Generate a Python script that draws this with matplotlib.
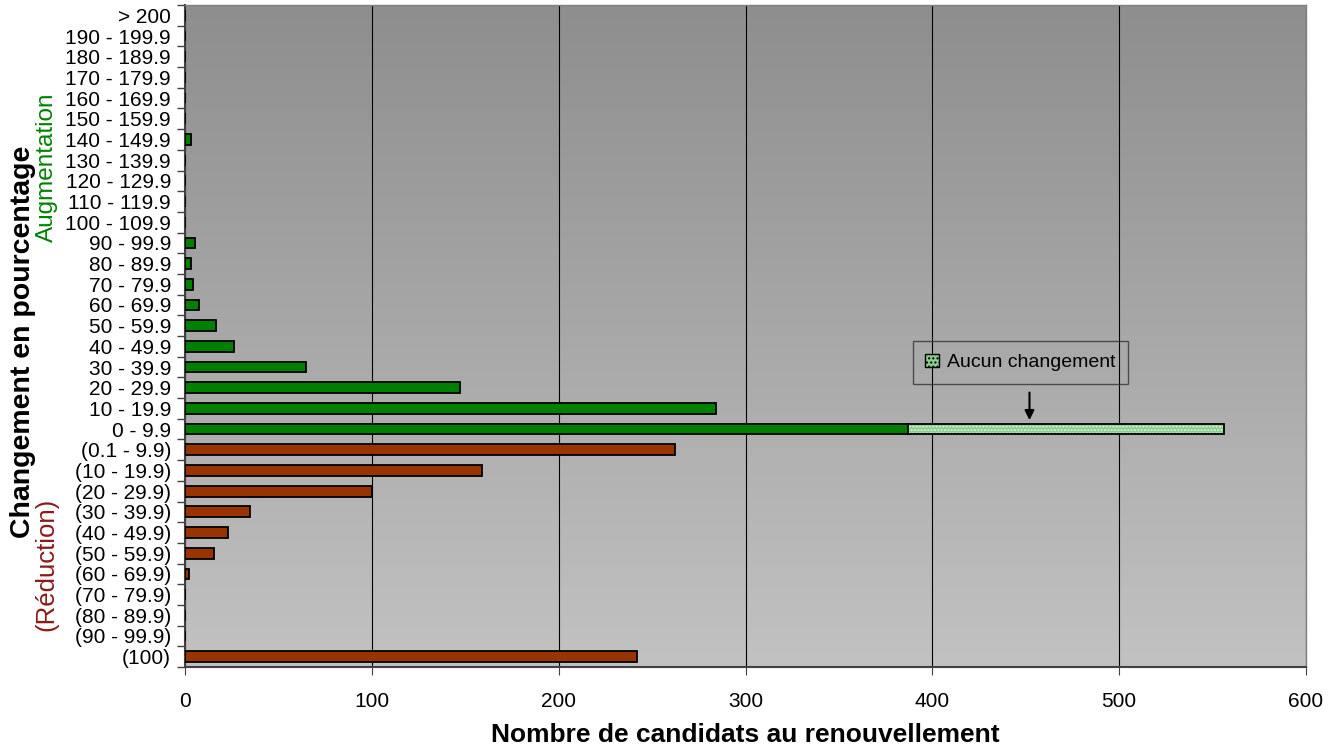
import numpy as np
import matplotlib
matplotlib.use('Agg')
import matplotlib.pyplot as plt
from matplotlib.patches import Patch

plt.rcParams['font.family'] = ['Liberation Sans', 'DejaVu Sans']
plt.rcParams['hatch.linewidth'] = 1.0

# -----------------------------
# Data
# -----------------------------
labels = ["> 200", "190 - 199.9", "180 - 189.9", "170 - 179.9", "160 - 169.9",
          "150 - 159.9", "140 - 149.9", "130 - 139.9", "120 - 129.9", "110 - 119.9",
          "100 - 109.9", "90 - 99.9", "80 - 89.9", "70 - 79.9", "60 - 69.9",
          "50 - 59.9", "40 - 49.9", "30 - 39.9", "20 - 29.9", "10 - 19.9", "0 - 9.9",
          "(0.1 - 9.9)", "(10 - 19.9)", "(20 - 29.9)", "(30 - 39.9)", "(40 - 49.9)",
          "(50 - 59.9)", "(60 - 69.9)", "(70 - 79.9)", "(80 - 89.9)", "(90 - 99.9)",
          "(100)"]

# augmentation (green), top to bottom down to "0 - 9.9"
increase = [0, 0, 0, 0, 0, 0, 3, 0, 0, 0, 0, 5.5, 3.3, 4.3, 7.5, 16.5, 26, 65, 147, 284, 387]
# reduction (red), "(0.1 - 9.9)" down to "(100)"
decrease = [262, 159, 100, 35, 23, 15.5, 2, 0, 0, 0, 242]
# "Aucun changement" stacked on the 0 - 9.9 row
no_change = 169
no_change_row = "0 - 9.9"

# -----------------------------
# Figure
# -----------------------------
fig = plt.figure(figsize=(13.39, 7.52), dpi=100)
ax = fig.add_axes([185 / 1339, 1 - 667 / 752, 1121 / 1339, 662 / 752])

# gradient background (dark at top, light at bottom)
grad = np.linspace(0, 1, 256).reshape(-1, 1)
ax.imshow(grad, extent=[0, 1, 0, 1], transform=ax.transAxes, aspect='auto',
          cmap=matplotlib.colors.LinearSegmentedColormap.from_list('bg', ['#c2c2c2', '#8e8e8e']),
          origin='lower', zorder=0)

y = np.arange(len(labels))
n_inc = len(increase)
bh = 0.52

ax.barh(y[:n_inc], increase, height=bh, color='#008000', edgecolor='black', linewidth=1.3, zorder=3)
ax.barh(y[n_inc:], decrease, height=bh, color='#993300', edgecolor='black', linewidth=1.3, zorder=3)

iy = labels.index(no_change_row)
left = increase[iy]
ax.barh(iy, no_change, left=left, height=bh, color='#8ccf8c', edgecolor='#d8f0d8',
        hatch='.....', linewidth=0, zorder=3)
ax.barh(iy, no_change, left=left, height=bh, facecolor='none', edgecolor='black',
        linewidth=1.3, zorder=4)

ax.set_xlim(0, 600)
ax.set_ylim(len(labels) - 0.5, -0.5)
ax.set_xticks(np.arange(0, 601, 100))
ax.grid(axis='x', color='black', linewidth=0.8, zorder=1)
ax.set_axisbelow(True)

ax.set_yticks(y)
ax.set_yticklabels(labels, fontsize=15)
ax.set_yticks(np.arange(-0.5, len(labels), 1), minor=True)
ax.tick_params(axis='y', which='major', length=0, pad=10)
ax.tick_params(axis='y', which='minor', length=6, color='#404040', width=1)
ax.tick_params(axis='x', length=6, color='#404040', labelsize=15, pad=12)

for side in ['left', 'bottom']:
    ax.spines[side].set_color('#404040')
    ax.spines[side].set_linewidth(1.5)
for side in ['top', 'right']:
    ax.spines[side].set_color('#808080')
    ax.spines[side].set_linewidth(1)

ax.set_xlabel("Nombre de candidats au renouvellement", fontsize=19, fontweight='bold', labelpad=9)

# legend + arrow
handle = Patch(facecolor='#8ccf8c', edgecolor='black', hatch='....', label='Aucun changement')
leg = ax.legend(handles=[handle], loc='lower left', bbox_to_anchor=(0.649, 0.4275),
                borderaxespad=0, fontsize=14, frameon=True, fancybox=False,
                handlelength=0.7, handleheight=0.7, borderpad=0.65, handletextpad=0.4)
leg.get_frame().set_edgecolor('#333333')
leg.get_frame().set_facecolor('none')
leg.get_frame().set_linewidth(1)

ax.annotate('', xy=(452, iy - 0.3), xytext=(452, iy - 1.9),
            arrowprops=dict(arrowstyle='-|>', color='black', lw=1.5, mutation_scale=14), zorder=5)

# axis titles
fig.text(0.017, 0.545, "Changement en pourcentage", rotation=90, ha='center', va='center',
         fontsize=20.5, fontweight='bold')
fig.text(0.035, 0.778, "Augmentation", rotation=90, ha='center', va='center',
         fontsize=17.5, color='#008000')
fig.text(0.035, 0.25, "(Réduction)", rotation=90, ha='center', va='center',
         fontsize=18.5, color='#8b1a1a')

plt.savefig("out.png", dpi=100)
